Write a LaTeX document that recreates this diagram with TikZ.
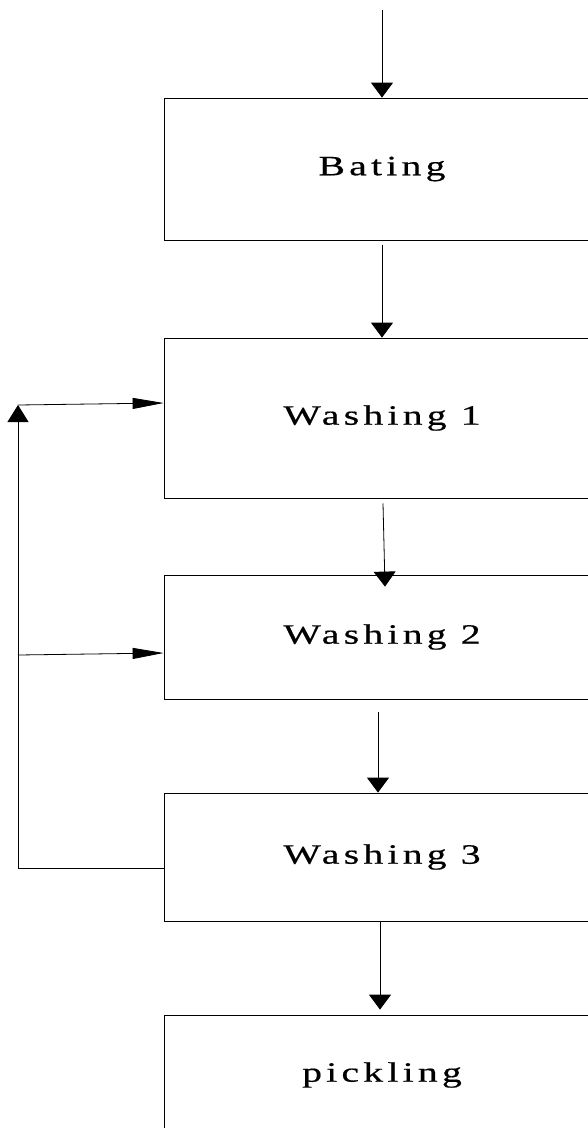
\documentclass[tikz,border=0pt]{standalone}
\usepackage{fontspec}
\setmainfont{Liberation Serif}[FakeStretch=1.42, LetterSpace=15, FakeBold=0.5]
\usetikzlibrary{arrows.meta}

\tikzset{
  proc/.style={draw, line width=0.8pt, rectangle, minimum width=436pt,
               inner sep=0pt, font=\fontsize{28}{30}\selectfont},
  flow/.style={line width=0.8pt, -{Triangle[width=22pt,length=15pt]}},
  rise/.style={line width=0.8pt, -{Triangle[width=21pt,length=17pt]}},
  feed/.style={line width=0.8pt, -{Triangle[width=11pt,length=31pt]}},
  plain/.style={line width=0.8pt}
}

\begin{document}
\begin{tikzpicture}[x=1pt,y=-1pt]
  \useasboundingbox (0,0) rectangle (588,1128);

  % process steps
  \node[proc, minimum height=142pt] (bat) at (382,169) {Bating};
  \node[proc, minimum height=160pt] (w1)  at (382,418) {Washing 1};
  \node[proc, minimum height=124pt] (w2)  at (382,637) {Washing 2};
  \node[proc, minimum height=128pt] (w3)  at (382,857) {Washing 3};
  \node[proc, minimum height=120pt] (pk)  at (382,1075) {pickling};

  % main line
  \coordinate (feedin) at (382,10);
  \draw[flow] (feedin) -- (bat.north);
  \draw[flow] ([yshift=-5pt]bat.south) -- (w1.north);
  \draw[flow] ([xshift=1pt,yshift=-5pt]w1.south) -- ([xshift=3pt,yshift=-12pt]w2.north);
  \draw[flow] ([xshift=-4pt,yshift=-13pt]w2.south) -- ([xshift=-4pt]w3.north);
  \draw[flow] ([xshift=-2pt]w3.south) -- ([xshift=-2pt,yshift=5pt]pk.north);

  % counter-current return
  \coordinate (corner) at (18,868);
  \coordinate (loopTop) at (18,405);
  \coordinate (loopMid) at (18,655);
  \draw[plain] ([yshift=-11pt]w3.west) -- (corner);
  \draw[rise] (corner) -- (loopTop);
  \draw[feed] (loopTop) -- ([yshift=15pt]w1.west);
  \draw[feed] (loopMid) -- ([yshift=-16pt]w2.west);
\end{tikzpicture}
\end{document}
